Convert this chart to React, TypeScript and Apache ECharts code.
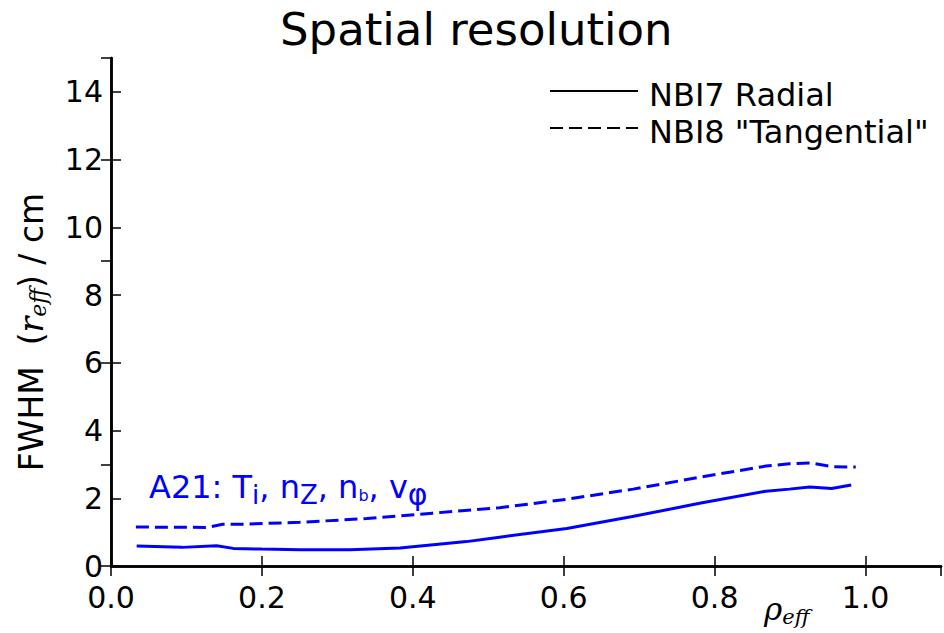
import React, { useEffect, useRef } from "react";
import * as echarts from "echarts";

const rhoRadial = [0.034, 0.094, 0.14, 0.162, 0.2, 0.25, 0.317, 0.383, 0.471, 0.515, 0.604, 0.691, 0.78, 0.868, 0.899, 0.926, 0.955, 0.981];
const fwhmRadial = [0.59, 0.55, 0.6, 0.52, 0.5, 0.48, 0.48, 0.53, 0.72, 0.85, 1.11, 1.46, 1.85, 2.21, 2.27, 2.33, 2.29, 2.39];

const rhoTang = [0.033, 0.128, 0.148, 0.171, 0.25, 0.339, 0.426, 0.515, 0.604, 0.692, 0.78, 0.868, 0.899, 0.928, 0.957, 0.987];
const fwhmTang = [1.15, 1.14, 1.23, 1.23, 1.29, 1.4, 1.56, 1.72, 1.97, 2.27, 2.62, 2.95, 3.02, 3.04, 2.93, 2.92];

const seriesNames = ["NBI7 Radial", 'NBI8 "Tangential"'];

const SANS = "DejaVu Sans";
const SERIF = "DejaVu Serif";

export default function App() {
  const ref = useRef<HTMLDivElement>(null);
  useEffect(() => {
    const chart = echarts.init(ref.current!, null, { renderer: "svg" });
    const spine = { show: true, lineStyle: { color: "#000", width: 2.5 } };
    const tick = { show: true, inside: true, length: 10, lineStyle: { color: "#000", width: 1.5 } };
    const labelBase = { color: "#000", fontSize: 30, fontFamily: SANS, lineHeight: 24 };
    chart.setOption({
      animation: false,
      backgroundColor: "#fff",
      title: {
        text: "Spatial resolution",
        left: 280,
        top: 7,
        padding: 0,
        textStyle: { fontFamily: SANS, fontSize: 45, fontWeight: "normal", color: "#000" },
      },
      legend: {
        orient: "vertical",
        left: 549,
        top: 71,
        padding: 0,
        itemWidth: 88,
        itemHeight: 14,
        itemGap: -3,
        lineStyle: { color: "#000", width: 2 },
        itemStyle: { color: "rgba(0,0,0,0)", borderWidth: 0, opacity: 0 },
        formatter: (name: string) => "{n|" + name + "}",
        textStyle: {
          fontFamily: SANS,
          fontSize: 32,
          color: "#000",
          padding: [0, 0, 0, 6],
          rich: {
            n: { fontFamily: SANS, fontSize: 32, color: "#000", lineHeight: 30, padding: [8, 0, 0, 0] },
          },
        },
        data: seriesNames,
      },
      grid: { left: 111, right: 3, top: 58, bottom: 67, containLabel: false },
      xAxis: [
        {
          type: "value",
          position: "bottom",
          min: 0,
          max: 1.1,
          interval: 0.2,
          axisLine: spine,
          axisTick: tick,
          splitLine: { show: false },
          axisLabel: {
            ...labelBase,
            margin: 19,
            showMaxLabel: false,
            formatter: (v: number) => v.toFixed(1),
          },
        },
        {
          type: "value",
          position: "top",
          min: 0,
          max: 1.1,
          interval: 0.2,
          axisLine: spine,
          axisTick: tick,
          splitLine: { show: false },
          axisLabel: { show: false },
        },
      ],
      yAxis: [
        {
          type: "value",
          position: "left",
          min: 0,
          max: 15,
          interval: 2,
          axisLine: spine,
          axisTick: tick,
          splitLine: { show: false },
          axisLabel: { ...labelBase, margin: 8, showMaxLabel: false },
          name: "FWHM  ({r|r}{s|eff}) / cm",
          nameLocation: "middle",
          nameGap: 62,
          nameRotate: 90,
          nameTextStyle: {
            fontFamily: SANS,
            fontSize: 33,
            color: "#000",
            padding: [0, 40, 0, 0],
            rich: {
              r: { fontFamily: SERIF, fontStyle: "italic", fontSize: 33, color: "#000" },
              s: { fontFamily: SERIF, fontStyle: "italic", fontSize: 22, color: "#000", padding: [14, 0, 0, 0] },
            },
          },
        },
        {
          type: "value",
          position: "right",
          min: 0,
          max: 15,
          interval: 3,
          axisLine: spine,
          axisTick: tick,
          splitLine: { show: false },
          axisLabel: { show: false },
        },
      ],
      graphic: [
        {
          type: "text",
          left: 764,
          top: 593,
          style: {
            text: "{r|ρ}{s|eff}",
            fill: "#000",
            rich: {
              r: { fontFamily: SERIF, fontStyle: "italic", fontSize: 31, fill: "#000" },
              s: { fontFamily: SERIF, fontStyle: "italic", fontSize: 21, fill: "#000", padding: [16, 0, 0, 0] },
            },
          },
        },
        {
          type: "text",
          left: 149,
          top: 471,
          style: {
            text: "A21: T{a|i}, n{b|Z}, n{c|b}, v{d|φ}",
            fill: "#0000ff",
            fontFamily: SANS,
            fontSize: 32,
            rich: {
              a: { fontFamily: SANS, fontSize: 26, fill: "#0000ff", padding: [16, 0, 0, 0] },
              b: { fontFamily: SANS, fontSize: 26, fill: "#0000ff", padding: [16, 0, 0, 0] },
              c: { fontFamily: SANS, fontSize: 16, fill: "#0000ff", padding: [16, 0, 0, 0] },
              d: { fontFamily: SANS, fontSize: 30, fill: "#0000ff", padding: [14, 0, 0, 0] },
            },
          },
        },
      ],
      series: [
        {
          name: seriesNames[0],
          type: "line",
          xAxisIndex: 0,
          yAxisIndex: 0,
          symbol: "none",
          smooth: false,
          lineStyle: { color: "#0000ff", width: 3, type: "solid" },
          itemStyle: { color: "#0000ff" },
          data: rhoRadial.map((x, i) => [x, fwhmRadial[i]]),
        },
        {
          name: seriesNames[1],
          type: "line",
          xAxisIndex: 0,
          yAxisIndex: 0,
          symbol: "none",
          smooth: false,
          lineStyle: { color: "#0000ff", width: 3, type: [13, 6] },
          itemStyle: { color: "#0000ff" },
          data: rhoTang.map((x, i) => [x, fwhmTang[i]]),
        },
      ],
    });
    return () => chart.dispose();
  }, []);
  return <div ref={ref} style={{ width: 944, height: 633, position: "absolute", left: 0, top: 0 }} />;
}
